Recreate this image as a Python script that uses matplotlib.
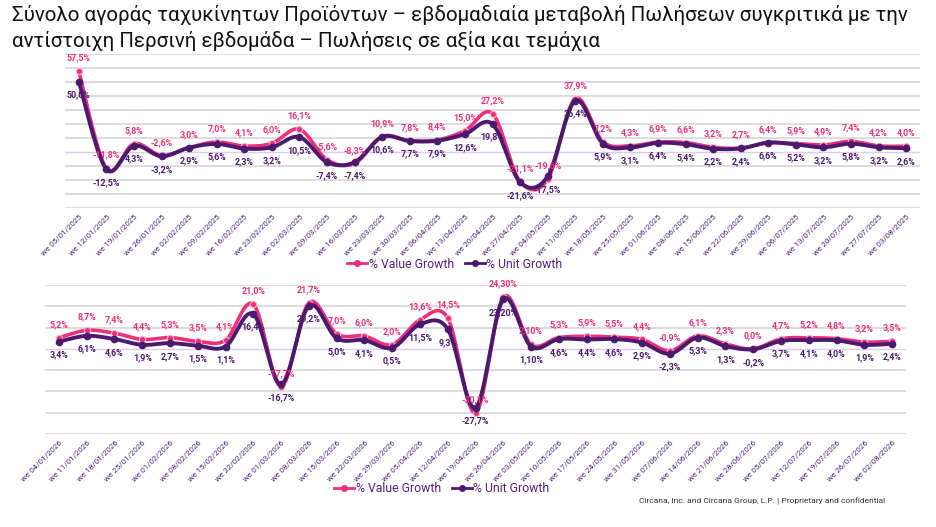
import matplotlib
matplotlib.use("Agg")
import matplotlib.pyplot as plt
from matplotlib.lines import Line2D
import numpy as np
from matplotlib import font_manager

avail = {f.name for f in font_manager.fontManager.ttflist}
NARROW = 'Liberation Sans Narrow' if 'Liberation Sans Narrow' in avail else 'Roboto'

title = ("Σύνολο αγοράς ταχυκίνητων Προϊόντων – εβδομαδιαία μεταβολή Πωλήσεων συγκριτικά με την\n"
         "αντίστοιχη Περσινή εβδομάδα – Πωλήσεις σε αξία και τεμάχια")
footer = "Circana, Inc. and Circana Group, L.P. | Proprietary and confidential"

weeks_2025 = ["05/01/2025", "12/01/2025", "19/01/2025", "26/01/2025", "02/02/2025", "09/02/2025",
              "16/02/2025", "23/02/2025", "02/03/2025", "09/03/2025", "16/03/2025", "23/03/2025",
              "30/03/2025", "06/04/2025", "13/04/2025", "20/04/2025", "27/04/2025", "04/05/2025",
              "11/05/2025", "18/05/2025", "25/05/2025", "01/06/2025", "08/06/2025", "15/06/2025",
              "22/06/2025", "29/06/2025", "06/07/2025", "13/07/2025", "20/07/2025", "27/07/2025",
              "03/08/2025"]
value_2025 = [57.5, -11.8, 5.8, -2.6, 3.0, 7.0, 4.1, 6.0, 16.1, -5.6, -8.3, 10.9, 7.8, 8.4, 15.0,
              27.2, -21.1, -19.6, 37.9, 7.2, 4.3, 6.9, 6.6, 3.2, 2.7, 6.4, 5.9, 4.9, 7.4, 4.2, 4.0]
unit_2025 = [50.0, -12.5, 4.3, -3.2, 2.9, 5.6, 2.3, 3.2, 10.5, -7.4, -7.4, 10.6, 7.7, 7.9, 12.6,
             19.8, -21.6, -17.5, 36.4, 5.9, 3.1, 6.4, 5.4, 2.2, 2.4, 6.6, 5.2, 3.2, 5.8, 3.2, 2.6]

weeks_2026 = ["04/01/2026", "11/01/2026", "18/01/2026", "25/01/2026", "01/02/2026", "08/02/2026",
              "15/02/2026", "22/02/2026", "01/03/2026", "08/03/2026", "15/03/2026", "22/03/2026",
              "29/03/2026", "05/04/2026", "12/04/2026", "19/04/2026", "26/04/2026", "03/05/2026",
              "10/05/2026", "17/05/2026", "24/05/2026", "31/05/2026", "07/06/2026", "14/06/2026",
              "21/06/2026", "28/06/2026", "05/07/2026", "12/07/2026", "19/07/2026", "26/07/2026",
              "02/08/2026"]
value_2026 = [5.2, 8.7, 7.4, 4.4, 5.3, 3.5, 4.1, 21.0, -17.7, 21.7, 7.0, 6.0, 2.0, 13.6, 14.5,
              -30.1, 24.3, 2.1, 5.3, 5.9, 5.5, 4.4, -0.9, 6.1, 2.3, 0.0, 4.7, 5.2, 4.8, 3.2, 3.5]
unit_2026 = [3.4, 6.1, 4.6, 1.9, 2.7, 1.5, 1.1, 16.4, -16.7, 20.2, 5.0, 4.1, 0.5, 11.5, 9.3,
             -27.7, 23.2, 1.1, 4.6, 4.4, 4.6, 2.9, -2.3, 5.3, 1.3, -0.2, 3.7, 4.1, 4.0, 1.9, 2.4]
# labels shown with two decimals in the reference
two_dec_value_2026 = [16, 17]
two_dec_unit_2026 = [16, 17]

PINK = "#EE2F7A"
PURPLE = "#4B1A6E"
TXT_PURPLE = "#52207E"
GRID = "#DADADA"
ZERO = "#DCCBF2"


def fmt(v, d=1):
    return (f"{v:.{d}f}".replace(".", ",")) + "%"


def smooth(xs, ys, n=20):
    xs = np.asarray(xs, float)
    ys = np.asarray(ys, float)
    P = np.column_stack([xs, ys])
    out = [P[0]]
    m = len(P)
    for i in range(m - 1):
        p0 = P[i - 1] if i > 0 else P[i]
        p1 = P[i]
        p2 = P[i + 1]
        p3 = P[i + 2] if i + 2 < m else P[i + 1]
        c1 = p1 + (p2 - p0) / 6.0
        c2 = p2 - (p3 - p1) / 6.0
        t = np.linspace(0, 1, n)[1:, None]
        seg = ((1 - t) ** 3) * p1 + 3 * ((1 - t) ** 2) * t * c1 + 3 * (1 - t) * t ** 2 * c2 + t ** 3 * p2
        out.extend(seg)
    out = np.array(out)
    return out[:, 0], out[:, 1]


def panel(ax, weeks, vals, units, ylo, yhi, vdec, udec):
    x = np.arange(len(weeks))
    for g in range(ylo, yhi + 1, 10):
        if g == 0:
            ax.axhline(0, color=ZERO, lw=1.0, zorder=1)
        else:
            ax.axhline(g, color=GRID, lw=1.3, zorder=1)
    sx, sy = smooth(x, vals)
    ax.plot(sx, sy, color=PINK, lw=2.6, zorder=3, solid_capstyle='round')
    ax.plot(x, vals, 'o', color=PINK, ms=4.5, mec="#F7B6CF", mew=0.8, zorder=4)
    sx, sy = smooth(x, units)
    ax.plot(sx, sy, color=PURPLE, lw=2.8, zorder=5, solid_capstyle='round')
    ax.plot(x, units, 'o', color=PURPLE, ms=4.5, mec=PURPLE, zorder=6)
    for i in range(len(x)):
        ax.annotate(fmt(vals[i], 2 if i in vdec else 1), (x[i], vals[i]), xytext=(0, 9.5),
                    textcoords='offset points', ha='center', va='center', color=PINK,
                    fontsize=6.4, fontweight='bold', family='Roboto', zorder=8, annotation_clip=False)
        ax.annotate(fmt(units[i], 2 if i in udec else 1), (x[i], units[i]), xytext=(0, -9.5),
                    textcoords='offset points', ha='center', va='center', color=PURPLE,
                    fontsize=6.4, fontweight='bold', family='Roboto', zorder=8, annotation_clip=False)
    ax.set_xlim(-0.5, len(x) - 0.5)
    ax.set_ylim(ylo, yhi)
    ax.set_xticks(x)
    ax.set_xticklabels(["we " + w for w in weeks], rotation=45, ha='right', rotation_mode='anchor',
                       fontsize=5.8, color=TXT_PURPLE, family='Roboto')
    ax.tick_params(axis='x', length=0, pad=4)
    ax.set_yticks([])
    for s in ax.spines.values():
        s.set_visible(False)
    ax.patch.set_alpha(0)


fig = plt.figure(figsize=(9.36, 5.27), dpi=100)
W, H = 936.0, 527.0

ax1 = fig.add_axes([65 / W, 1 - 208 / H, (920 - 65) / W, (208 - 53.5) / H])
panel(ax1, weeks_2025, value_2025, unit_2025, -40, 70, [], [])
ax2 = fig.add_axes([45 / W, 1 - 434 / H, (906 - 45) / W, (434 - 285) / H])
panel(ax2, weeks_2026, value_2026, unit_2026, -40, 30, two_dec_value_2026, two_dec_unit_2026)

handles = [Line2D([], [], color=PINK, lw=2, marker='o', ms=4, label='% Value Growth'),
           Line2D([], [], color=PURPLE, lw=2, marker='o', ms=4, label='% Unit Growth')]
for yc, xc in ((264, 455), (489, 442)):
    fig.legend(handles=handles, loc='center', bbox_to_anchor=(xc / W, 1 - yc / H), ncol=2, frameon=False,
               labelcolor=TXT_PURPLE, handlelength=1.6, handletextpad=0.15,
               columnspacing=0.9, prop={'family': NARROW, 'size': 8.8})

fig.text(12 / W, 1 - 5 / H, title, ha='left', va='top', fontsize=14.8, family=NARROW,
         color='#111111', linespacing=1.4)
fig.text(885 / W, 1 - 501 / H, footer, ha='right', va='center', fontsize=6.0, family=NARROW,
         color='#333333')

fig.savefig("out.png", dpi=100)
